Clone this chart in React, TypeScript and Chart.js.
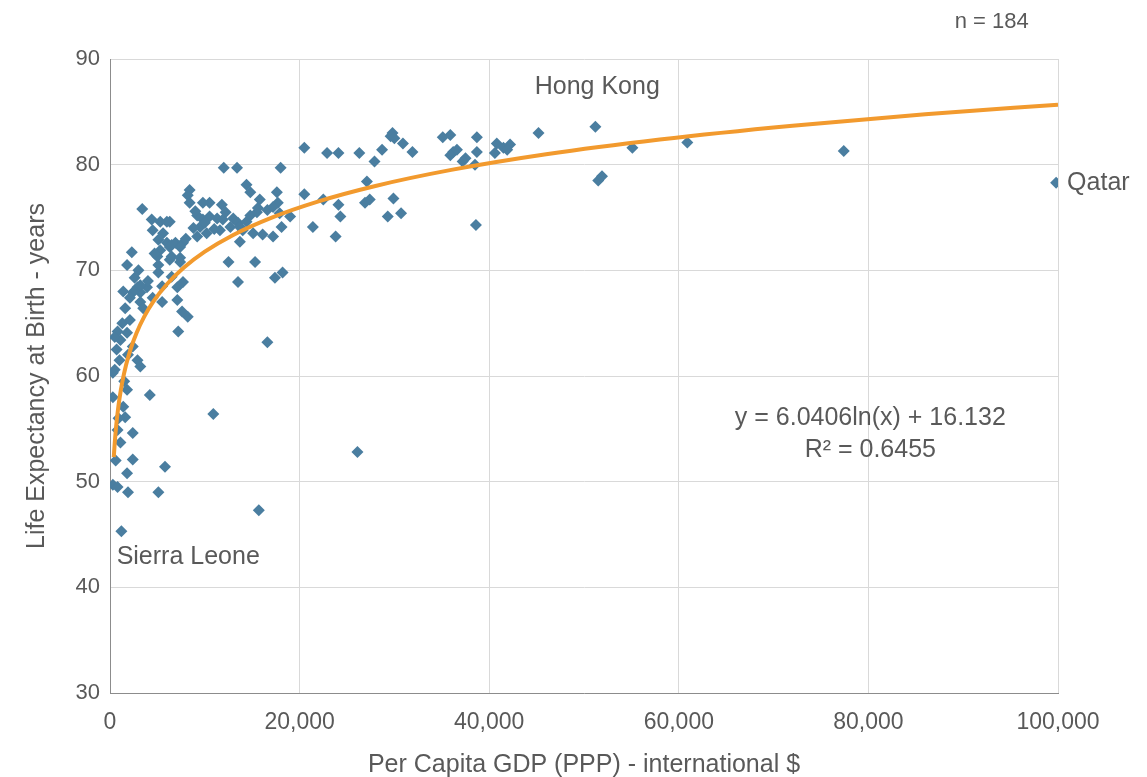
import React, { useEffect, useRef } from 'react';
import { Chart, registerables } from 'chart.js';

Chart.register(...registerables);

// Per Capita GDP (PPP, international $) for 184 countries
const gdp: number[] = [
  51200, 45200, 51500, 51900, 55100, 60900, 77400, 99800, 38600, 20500,
  22900, 24100, 26300, 28700, 29800, 29600, 30000, 30900, 31900, 27900,
  35100, 35900, 36200, 35900, 36600, 37500, 38700, 38700, 38500, 37200,
  40800, 41500, 42200, 41900, 40600, 20500, 22500, 24100, 24300, 21400,
  23800, 27100, 26900, 27400, 29900, 29300, 30700, 19000, 12000, 13400,
  18000, 8400, 8200, 8400, 14400, 14800, 15800, 17600, 17700, 3400,
  10500, 11800, 4400, 5300, 6300, 9200, 9800, 10500, 11300, 11900,
  13000, 13500, 14400, 15500, 16600, 17200, 17900, 4500, 5600, 9500,
  10200, 9200, 11600, 12700, 13700, 15100, 16100, 17200, 18100, 5100,
  6000, 6900, 7700, 5300, 6300, 5000, 6500, 7400, 2300, 1800,
  12500, 15300, 13500, 17400, 18200, 5100, 6500, 7100, 1400, 2900,
  3900, 3200, 4700, 6500, 7400, 5100, 6300, 7400, 7700, 3200,
  2400, 2100, 3200, 4500, 1600, 3500, 5500, 7100, 7600, 8200,
  7200, 1300, 2100, 800, 1800, 16600, 1100, 700, 2400, 2900,
  3200, 500, 4200, 300, 1800, 1400, 1600, 10900, 2400, 800,
  1100, 2400, 5800, 1800, 300, 800, 1900, 5100, 1200, 15700,
  26100, 500, 300, 6000, 9800, 15600, 14800, 14000, 13700, 8800,
  10000, 11000, 9000, 2600, 1500, 900, 600, 1000, 3000, 4000,
  8000, 12200, 5500, 1900,
];

// Life expectancy at birth (years), same order as gdp
const lifeExp: number[] = [
  83.6, 83.0, 78.5, 78.9, 81.6, 82.1, 81.3, 78.3, 74.3, 81.6,
  81.1, 81.1, 81.1, 81.4, 83.0, 82.7, 82.5, 82.0, 81.2, 80.3,
  82.6, 82.8, 81.2, 80.9, 81.4, 80.6, 82.6, 81.2, 80.0, 80.3,
  82.0, 81.6, 81.9, 81.4, 81.1, 77.2, 76.7, 76.2, 75.1, 74.1,
  73.2, 78.4, 76.4, 76.7, 76.8, 75.1, 75.4, 75.1, 79.7, 79.7,
  79.7, 77.6, 77.1, 76.4, 78.1, 77.4, 76.7, 77.4, 76.4, 75.8,
  76.4, 76.2, 74.8, 74.6, 74.6, 75.2, 74.8, 75.1, 74.9, 74.8,
  74.9, 74.5, 74.6, 75.5, 75.7, 76.0, 75.4, 73.8, 73.5, 74.1,
  73.5, 73.2, 73.8, 74.1, 74.1, 73.5, 73.4, 73.2, 74.1, 72.9,
  72.6, 72.6, 72.6, 71.9, 72.2, 71.3, 71.3, 71.2, 71.7, 70.5,
  70.8, 70.8, 68.9, 69.3, 69.8, 69.8, 69.4, 68.4, 68.0, 68.4,
  68.4, 67.9, 71.6, 72.4, 72.2, 70.5, 71.0, 70.8, 68.9, 68.6,
  67.9, 67.4, 67.0, 67.4, 66.4, 66.4, 67.0, 67.2, 66.1, 65.6,
  64.2, 65.0, 65.3, 64.2, 64.1, 63.2, 63.4, 62.5, 62.8, 61.5,
  60.9, 60.6, 58.2, 58.0, 58.7, 57.1, 56.1, 56.4, 54.6, 54.9,
  53.7, 52.1, 51.4, 50.8, 49.7, 49.5, 49.0, 49.0, 45.3, 47.3,
  52.8, 63.7, 60.3, 74.6, 76.4, 75.9, 75.2, 73.8, 72.7, 74.0,
  74.5, 73.9, 75.6, 69.3, 59.5, 56.0, 52.0, 61.5, 70.0, 69.0,
  73.0, 75.5, 68.5, 62.0,
];

// Logarithmic trend line as shown on the chart: y = 6.0406 ln(x) + 16.132
const trendSlope = 6.0406;
const trendIntercept = 16.132;
const trendX: number[] = [
  400, 500, 650, 800, 1000, 1300, 1700, 2200, 2800, 3600, 4600, 6000, 7800,
  10000, 13000, 17000, 22000, 28000, 36000, 46000, 58000, 72000, 86000, 100000,
];

const xTicks: number[] = [0, 20000, 40000, 60000, 80000, 100000];
const yTicks: number[] = [30, 40, 50, 60, 70, 80, 90];

const countryLabels: string[] = ['Hong Kong', 'Qatar', 'Sierra Leone'];
const sampleSizeText = 'n = 184';
const equationText = 'y = 6.0406ln(x) + 16.132';
const rSquaredText = 'R² = 0.6455';
const xTitle = 'Per Capita GDP (PPP) - international $';
const yTitle = 'Life Expectancy at Birth - years';

const FONT = '"Liberation Sans", Arial, Helvetica, sans-serif';
const TEXT = '#595959';

export default function App() {
  const canvasRef = useRef<HTMLCanvasElement | null>(null);

  useEffect(() => {
    const canvas = canvasRef.current;
    if (!canvas) return;

    const points = gdp.map((g, i) => ({ x: g, y: lifeExp[i] }));
    const trend = trendX.map((x) => ({ x, y: trendSlope * Math.log(x) + trendIntercept }));

    const annotations = {
      id: 'annotations',
      afterDatasetsDraw(chart: any) {
        const { ctx, scales } = chart;
        const xs = scales.x;
        const ys = scales.y;
        ctx.save();
        ctx.fillStyle = TEXT;
        ctx.font = `25px ${FONT}`;
        ctx.textBaseline = 'middle';
        // Hong Kong
        ctx.textAlign = 'center';
        ctx.fillText(countryLabels[0], xs.getPixelForValue(51400), ys.getPixelForValue(87.3));
        // Qatar
        ctx.textAlign = 'left';
        ctx.fillText(countryLabels[1], xs.getPixelForValue(99800) + 11, ys.getPixelForValue(78.3));
        // Sierra Leone
        ctx.fillText(countryLabels[2], xs.getPixelForValue(700), ys.getPixelForValue(42.9));
        // Equation
        ctx.textAlign = 'center';
        ctx.fillText(equationText, xs.getPixelForValue(80200), ys.getPixelForValue(56.0));
        ctx.fillText(rSquaredText, xs.getPixelForValue(80200), ys.getPixelForValue(53.0));
        // n
        ctx.font = `22px ${FONT}`;
        ctx.fillText(sampleSizeText, xs.getPixelForValue(93000), 22);
        ctx.restore();
      },
    };

    const chart = new Chart(canvas, {
      type: 'scatter',
      data: {
        datasets: [
          {
            type: 'line',
            label: 'Trend',
            data: trend,
            borderColor: '#F29A2E',
            borderWidth: 4,
            pointRadius: 0,
            fill: false,
            cubicInterpolationMode: 'monotone',
          } as any,
          {
            label: 'Countries',
            data: points,
            pointStyle: 'rectRot',
            pointRadius: 6,
            backgroundColor: '#4A7EA0',
            borderColor: '#4A7EA0',
            borderWidth: 0,
          },
        ],
      },
      plugins: [annotations],
      options: {
        responsive: false,
        animation: false,
        layout: { padding: { top: 59, right: 89, left: 22, bottom: 0 } },
        plugins: {
          legend: { display: false },
          tooltip: { enabled: false },
        },
        scales: {
          x: {
            type: 'linear',
            min: 0,
            max: 100000,
            afterBuildTicks: (s: any) => {
              s.ticks = xTicks.map((v) => ({ value: v }));
            },
            afterFit: (s: any) => {
              s.height = 84;
            },
            ticks: {
              color: TEXT,
              font: { size: 23, family: FONT },
              padding: 16,
              maxRotation: 0,
              callback: (v: any) => Number(v).toLocaleString('en-US'),
            },
            grid: { color: '#D9D9D9', lineWidth: 1, drawTicks: false },
            border: { color: '#8C8C8C', width: 1 },
            title: {
              display: true,
              text: xTitle,
              color: TEXT,
              font: { size: 25, family: FONT },
              padding: { top: 0, bottom: -3 },
            },
          },
          y: {
            type: 'linear',
            min: 30,
            max: 90,
            afterBuildTicks: (s: any) => {
              s.ticks = yTicks.map((v) => ({ value: v }));
            },
            afterFit: (s: any) => {
              s.width = 88;
            },
            ticks: {
              color: TEXT,
              font: { size: 22, family: FONT },
              padding: 10,
            },
            grid: { color: '#D9D9D9', lineWidth: 1, drawTicks: false },
            border: { color: '#8C8C8C', width: 1 },
            title: {
              display: true,
              text: yTitle,
              color: TEXT,
              font: { size: 25, family: FONT },
              padding: { top: 0, bottom: 0 },
            },
          },
        },
      } as any,
    });

    return () => chart.destroy();
  }, []);

  return (
    <div style={{ position: 'absolute', left: 0, top: 0, width: 1147, height: 777, background: '#fff' }}>
      <canvas ref={canvasRef} width={1147} height={777} />
    </div>
  );
}
